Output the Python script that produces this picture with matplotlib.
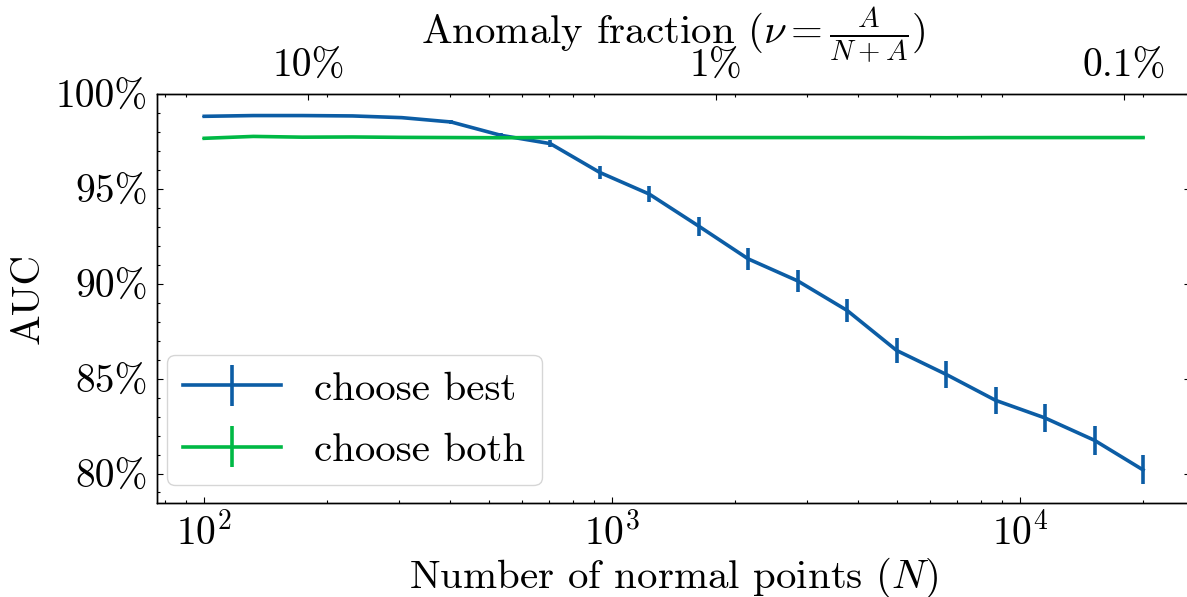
import matplotlib
matplotlib.use("Agg")
import matplotlib.pyplot as plt
from matplotlib.ticker import PercentFormatter, LogLocator, NullFormatter

# number of normal points (N)
n_points = [100, 132, 174, 231, 305, 403, 533, 705, 932, 1232,
            1629, 2154, 2848, 3765, 4978, 6581, 8701, 11503, 15209, 20000]

# AUC in percent
best_auc = [98.84, 98.88, 98.88, 98.86, 98.77, 98.54, 97.84, 97.40, 95.88, 94.74,
            93.05, 91.32, 90.16, 88.60, 86.49, 85.23, 83.86, 82.93, 81.75, 80.19]
best_err = [0.03, 0.03, 0.03, 0.04, 0.05, 0.08, 0.12, 0.18, 0.33, 0.42,
            0.50, 0.56, 0.60, 0.63, 0.68, 0.70, 0.72, 0.74, 0.76, 0.77]
both_auc = [97.68, 97.78, 97.74, 97.75, 97.73, 97.72, 97.71, 97.72, 97.73, 97.72,
            97.72, 97.72, 97.72, 97.72, 97.72, 97.71, 97.72, 97.72, 97.72, 97.72]
both_err = [0.02] * 20

n_anomalies = 18
nu_ticks = [0.1, 0.01, 0.001]
nu_labels = ["10%", "1%", "0.1%"]

plt.rcParams["font.family"] = ["cmr10", "DejaVu Serif"]
plt.rcParams["mathtext.fontset"] = "cm"
plt.rcParams["axes.formatter.use_mathtext"] = True
plt.rcParams["axes.unicode_minus"] = False
plt.rcParams["font.size"] = 29.5
plt.rcParams["xtick.labelsize"] = 28.5
plt.rcParams["ytick.labelsize"] = 28.5
plt.rcParams["axes.linewidth"] = 1.0
for ax_name in ("xtick", "ytick"):
    plt.rcParams[f"{ax_name}.direction"] = "in"
    plt.rcParams[f"{ax_name}.major.size"] = 4.5
    plt.rcParams[f"{ax_name}.minor.size"] = 2.5
    plt.rcParams[f"{ax_name}.major.width"] = 0.8
    plt.rcParams[f"{ax_name}.minor.width"] = 0.8
    plt.rcParams[f"{ax_name}.minor.visible"] = True
    plt.rcParams[f"{ax_name}.major.pad"] = 7

fig = plt.figure(figsize=(11.87, 5.97), dpi=100)
ax = fig.add_axes([0.1325, 0.1575, 0.87, 0.6845])

ax.errorbar(n_points, best_auc, yerr=best_err, color="#0C5DA5", lw=2.6,
            elinewidth=2.6, capsize=0, label="choose best")
ax.errorbar(n_points, both_auc, yerr=both_err, color="#00B945", lw=2.6,
            elinewidth=2.6, capsize=0, label="choose both")

ax.set_xscale("log")
ax.yaxis.set_major_formatter(PercentFormatter(100, decimals=0))
ax.set_yticks([80, 85, 90, 95, 100])
ax.yaxis.set_minor_locator(plt.MultipleLocator(1))
ax.tick_params(which="both", right=True, top=False)
ax.set_xlabel("Number of normal points ($N$)", labelpad=2)
ax.set_ylabel("AUC", labelpad=6)
ax.legend(loc="lower left", bbox_to_anchor=(0.009, 0.043), borderaxespad=0,
          handlelength=2.4, handletextpad=0.8, labelspacing=0.6)

xlim = ax.get_xlim()
ax2 = ax.twiny()
ax2.set_xscale("log")
ax2.set_xlim(xlim)
ax2.set_xticks([n_anomalies / nu for nu in nu_ticks], nu_labels)
ax2.xaxis.set_minor_locator(LogLocator(base=10, subs=range(2, 10)))
ax2.xaxis.set_minor_formatter(NullFormatter())
ax2.set_xlabel(r"Anomaly fraction ($\nu = \frac{A}{N+A}$)")

fig.savefig("out.png", dpi=100)
plt.close(fig)
